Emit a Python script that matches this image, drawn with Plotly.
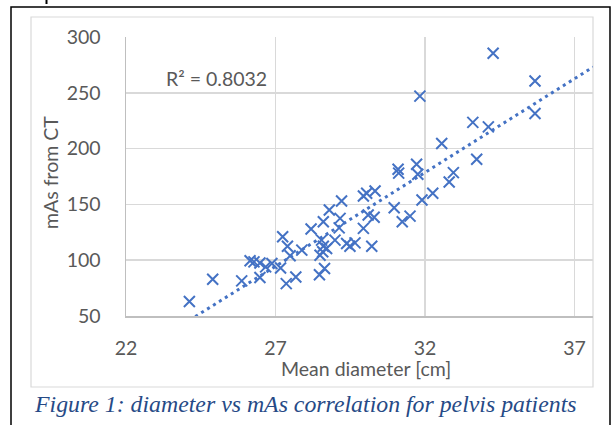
import numpy as np
import plotly.graph_objects as go

# ---- data ----
mean_diameter_cm = [
    24.12, 24.9, 25.87, 26.15, 26.28, 26.48, 26.48, 26.67, 26.88, 27.17,
    27.24, 27.4, 27.49, 27.36, 27.68, 27.88, 28.19, 28.6, 28.8, 28.47,
    28.64, 28.54, 28.6, 28.71, 28.58, 28.49, 28.99, 29.13, 29.16, 29.21,
    29.38, 29.49, 29.66, 29.94, 30.22, 30.1, 30.3, 29.94, 30.05, 30.33,
    30.97, 31.24, 31.5, 31.1, 31.12, 31.72, 31.76, 31.9, 32.26, 32.56,
    32.81, 32.95, 33.6, 33.73, 31.83, 34.28, 35.68, 35.68, 34.12,
]
mas_from_ct = [
    63, 83, 81.5, 99.5, 98.5, 97.5, 84.5, 94, 97, 93,
    121, 112.5, 104, 79, 85, 109, 128, 134.5, 145, 87,
    92.5, 118, 112.5, 110.5, 107.5, 104.5, 118, 129, 137.5, 153,
    115, 112.5, 115.5, 128.5, 112.5, 140.5, 138.5, 157.5, 160, 162,
    147, 134.5, 139.5, 181.5, 178, 186, 177, 154, 160, 204.5,
    170, 178.5, 223.5, 190.5, 247, 285.5, 260.5, 231.5, 219.5,
]
r2_label = "R² = 0.8032"
x_axis_title = "Mean diameter [cm]"
y_axis_title = "mAs from CT"
caption = "Figure 1: diameter vs mAs correlation for pelvis patients"
x_range = [22, 37.62]
y_range = [50, 300]

# ---- linear trendline (forecast to the axis edge) ----
slope, intercept = np.polyfit(mean_diameter_cm, mas_from_ct, 1)
trend_x = [min(mean_diameter_cm), x_range[1]]
trend_y = [slope * v + intercept for v in trend_x]

# ---- pixel helpers for decorations ----
W_PX, H_PX = 614, 425
L, R, T, B = 126, 593, 37, 316
def px(xp):
    return (xp - L) / (R - L)
def py(yp):
    return (B - yp) / (B - T)

BLUE = "#4472C4"
GREY_TXT = "#595959"
FONT = "Lato, 'Open Sans', sans-serif"

fig = go.Figure()
fig.add_trace(go.Scatter(
    x=trend_x, y=trend_y, mode="lines",
    line=dict(color=BLUE, width=3, dash="3px,4px"),
    hoverinfo="skip", showlegend=False,
))
fig.add_trace(go.Scatter(
    x=mean_diameter_cm, y=mas_from_ct, mode="markers",
    marker=dict(symbol="x-thin", size=11, color=BLUE,
                line=dict(width=2, color=BLUE)),
    showlegend=False,
))

fig.update_layout(
    width=W_PX, height=H_PX,
    margin=dict(l=L, r=W_PX - R, t=T, b=H_PX - B, pad=0),
    paper_bgcolor="white", plot_bgcolor="white",
    hovermode=False,
    font=dict(family=FONT, color=GREY_TXT, size=19),
    xaxis=dict(range=x_range, tick0=22, dtick=5, showgrid=True,
               gridcolor="#d9d9d9", gridwidth=1.5, zeroline=False,
               showline=True, linecolor="#bfbfbf", linewidth=1.5,
               ticks="", ticklabelstandoff=14,
               tickfont=dict(family=FONT, size=19.5, color=GREY_TXT)),
    yaxis=dict(range=y_range, tick0=50, dtick=50, showgrid=True,
               gridcolor="#d9d9d9", gridwidth=1.5, zeroline=False,
               showline=True, linecolor="#bfbfbf", linewidth=1.5,
               ticks="", ticklabelstandoff=20,
               tickfont=dict(family=FONT, size=19.5, color=GREY_TXT)),
    shapes=[
        dict(type="rect", xref="paper", yref="paper",
             x0=px(31), x1=px(593), y0=py(387), y1=py(17),
             line=dict(color="#d9d9d9", width=1.2), layer="below"),
        dict(type="rect", xref="paper", yref="paper",
             x0=px(11), x1=px(610), y0=py(440), y1=py(7),
             line=dict(color="black", width=1.5), layer="above"),
        dict(type="line", xref="paper", yref="paper",
             x0=px(46.5), x1=px(46.5), y0=py(4), y1=py(-2),
             line=dict(color="black", width=2), layer="above"),
    ],
    annotations=[
        dict(text=r2_label, xref="paper", yref="paper",
             x=px(216), y=py(78), xanchor="center", yanchor="middle",
             showarrow=False, font=dict(family=FONT, size=19.5, color=GREY_TXT)),
        dict(text=x_axis_title, xref="paper", yref="paper",
             x=px(366), y=py(368), xanchor="center", yanchor="middle",
             showarrow=False, font=dict(family=FONT, size=19.5, color=GREY_TXT)),
        dict(text=y_axis_title, xref="paper", yref="paper",
             x=px(50), y=py(173), xanchor="center", yanchor="middle",
             textangle=-90, showarrow=False,
             font=dict(family=FONT, size=19.5, color=GREY_TXT)),
        dict(text=caption, xref="paper", yref="paper",
             x=px(32), y=py(404), xanchor="left", yanchor="middle",
             showarrow=False,
             font=dict(family="'Liberation Serif', 'Times New Roman', serif",
                       size=23.8, color="#264A86", style="italic")),
    ],
)

fig.write_html("out.html",
               config={"displayModeBar": False, "staticPlot": True},
               post_script="document.body.style.margin='0';document.body.style.padding='0';")
